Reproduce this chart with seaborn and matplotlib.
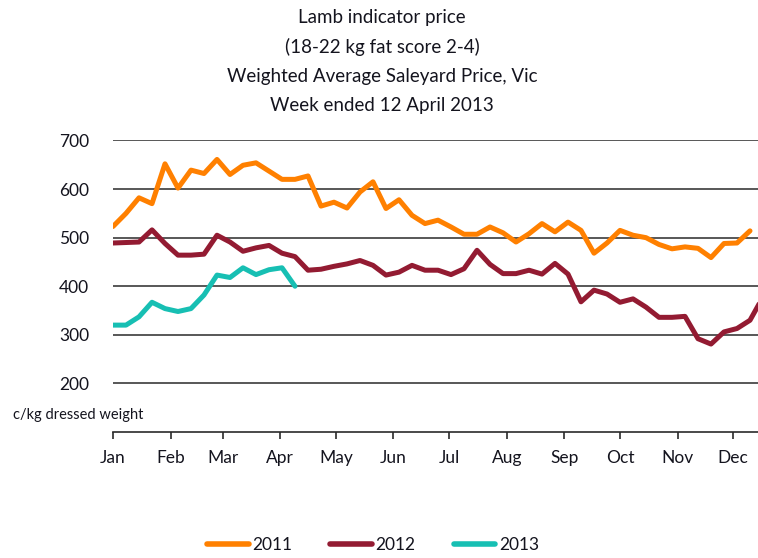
import matplotlib
matplotlib.use('Agg')
import matplotlib.pyplot as plt
import seaborn as sns
import pandas as pd
import numpy as np

# weekly lamb indicator prices, c/kg dressed weight (week 0 = first week of Jan)
y2011 = [523, 550, 582, 570, 652, 602, 639, 632, 661, 630, 649, 654, 637, 620, 620,
         627, 565, 573, 561, 594, 615, 560, 578, 546, 529, 536, 522, 507, 507, 522,
         510, 491, 508, 529, 512, 532, 515, 468, 489, 515, 505, 500, 486, 477, 481,
         478, 459, 488, 489, 514]
y2012 = [489, 490, 491, 516, 488, 464, 464, 466, 505, 491, 472, 479, 484, 468, 461,
         433, 435, 441, 446, 453, 443, 423, 429, 443, 433, 433, 424, 436, 474, 445,
         426, 426, 433, 425, 447, 425, 368, 392, 384, 367, 374, 357, 336, 336, 338,
         292, 281, 306, 313, 330, 378]
y2013 = [320, 320, 337, 367, 354, 348, 354, 382, 423, 418, 438, 424, 434, 438, 400]

years = ['2011', '2012', '2013']
colors = ['#FF8000', '#931B32', '#17BFB3']
months = ['Jan', 'Feb', 'Mar', 'Apr', 'May', 'Jun', 'Jul', 'Aug', 'Sep', 'Oct', 'Nov', 'Dec']
month_start_day = [0, 31, 59, 90, 120, 151, 181, 212, 243, 273, 304, 334]

rows = []
for yr, vals in zip(years, [y2011, y2012, y2013]):
    for i, v in enumerate(vals):
        rows.append({'week': i, 'price': v, 'year': yr})
df = pd.DataFrame(rows)

sns.set_style('white')
plt.rcParams['font.family'] = ['Lato', 'DejaVu Sans']
text_col = '#14141e'

fig = plt.figure(figsize=(7.58, 5.58), dpi=100)
# axes deliberately runs past the right edge of the figure (as in the source)
ax = fig.add_axes([113 / 758, 1 - 432 / 558, 676 / 758, 292 / 558])

sns.lineplot(data=df, x='week', y='price', hue='year', palette=dict(zip(years, colors)),
             linewidth=3.6, ax=ax, legend=False, zorder=3)

ax.set_xlim(0, 52)
ax.set_ylim(100, 701)
ax.set_yticks([200, 300, 400, 500, 600, 700])
ax.set_xticks(np.array(month_start_day) / 7)
ax.set_xticklabels(months)
ax.set_xlabel('')
ax.set_ylabel('')
ax.grid(axis='y', color='#2a2a2a', linewidth=1.1, zorder=0)
ax.grid(axis='x', visible=False)
for s in ['top', 'right', 'left']:
    ax.spines[s].set_visible(False)
ax.spines['bottom'].set_color('#2a2a2a')
ax.spines['bottom'].set_linewidth(1.2)
ax.tick_params(axis='y', length=0, pad=17, labelsize=12.5, labelcolor=text_col)
ax.tick_params(axis='x', direction='out', length=5, width=1.2, color='#2a2a2a',
               pad=8, labelsize=12.5, labelcolor=text_col, bottom=True)

fig.text(13 / 758, 1 - 415 / 558, 'c/kg dressed weight', fontsize=10.5,
         color=text_col, ha='left', va='center')

title_lines = ['Lamb indicator price', '(18-22 kg fat score 2-4)',
               'Weighted Average Saleyard Price, Vic', 'Week ended 12 April 2013']
for k, t in enumerate(title_lines):
    fig.text(382 / 758, 1 - (18 + 29.3 * k) / 558, t, fontsize=13.5,
             color=text_col, ha='center', va='center')

handles = [plt.Line2D([0], [0], color=c, linewidth=4, solid_capstyle='round') for c in colors]
fig.legend(handles, years, loc='center', bbox_to_anchor=(373 / 758, 1 - 545 / 558),
           ncol=3, frameon=False, fontsize=12.5, handlelength=2.4, handletextpad=0.2,
           columnspacing=2.2, labelcolor=text_col)

fig.savefig('out.png', dpi=100)
